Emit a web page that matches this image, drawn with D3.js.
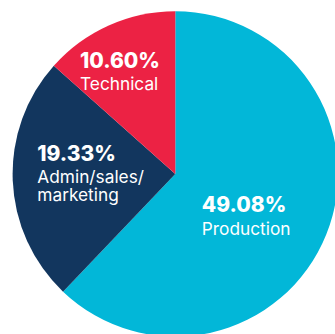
<!DOCTYPE html>
<html>
<head>
<meta charset="utf-8">
<script src="https://cdn.jsdelivr.net/npm/d3@7"></script>
<style>
  html, body { margin: 0; padding: 0; background: #ffffff; overflow: hidden; }
  svg { display: block; }
  text { font-family: "Inter", "Open Sans", sans-serif; fill: #ffffff; }
</style>
</head>
<body>
<svg id="chart" width="335" height="334"></svg>
<script>
// Workforce split by department (percent)
const categories = ["Production", "Admin/sales/marketing", "Technical"];
const values = [49.08, 19.33, 10.60];
const valueLabels = ["49.08%", "19.33%", "10.60%"];
const nameLines = [["Production"], ["Admin/sales/", "marketing"], ["Technical"]];
const colors = ["#02b7d8", "#12365e", "#ec2244"];

const svg = d3.select("#chart");
const cx = 175.3, cy = 173.9, radius = 162.7;

const pie = d3.pie().sort(null).value(d => d.value);
const arc = d3.arc().innerRadius(0).outerRadius(radius);

const data = categories.map((c, i) => ({ name: c, value: values[i], i }));
const arcs = pie(data);

const g = svg.append("g").attr("transform", `translate(${cx},${cy})`);

g.selectAll("path")
  .data(arcs)
  .join("path")
  .attr("d", arc)
  .attr("fill", d => colors[d.data.i]);

// Label anchors (left edge of the text block, baseline of the percentage),
// expressed relative to the pie centre
const labelPos = [
  { dx: 26.5, dy: 38.4 },
  { dx: -138, dy: -13.2 },
  { dx: -95.3, dy: -106.2 }
];

const labels = g.selectAll("g.label")
  .data(arcs)
  .join("g")
  .attr("class", "label")
  .attr("transform", d => `translate(${labelPos[d.data.i].dx},${labelPos[d.data.i].dy})`);

labels.append("text")
  .attr("font-size", 21)
  .attr("font-weight", 800)
  .text(d => valueLabels[d.data.i]);

// Department name, one tspan per line
const names = labels.append("text")
  .attr("y", 22.5)
  .attr("font-size", 17.3)
  .attr("font-weight", 400);

names.selectAll("tspan")
  .data(d => nameLines[d.data.i])
  .join("tspan")
  .attr("x", 0)
  .attr("dy", (d, k) => k === 0 ? 0 : 17.5)
  .text(d => d);
</script>
</body>
</html>
